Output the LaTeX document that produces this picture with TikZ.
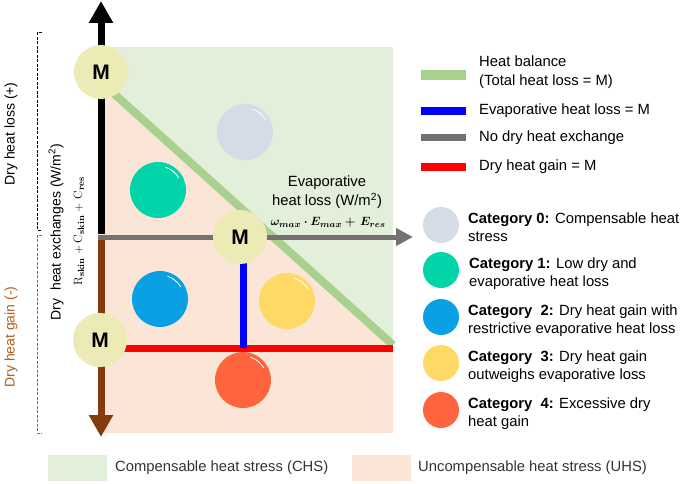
\documentclass[tikz,border=0pt]{standalone}
\usepackage[no-math]{fontspec}
\setmainfont{Liberation Sans}
\usepackage{bm}
\usetikzlibrary{arrows.meta}

\definecolor{mfill}{HTML}{EDEBB5}
\definecolor{chsfill}{HTML}{E2EFDA}
\definecolor{uhsfill}{HTML}{FBE5D6}
\definecolor{balance}{HTML}{A9D18E}
\definecolor{noexch}{HTML}{767171}
\definecolor{gainaxis}{HTML}{843C0C}
\definecolor{gaintext}{HTML}{B35E1E}
\definecolor{cat0}{HTML}{D6DCE5}
\definecolor{cat1}{HTML}{00D4A8}
\definecolor{cat2}{HTML}{0AA0E4}
\definecolor{cat3}{HTML}{FFD966}
\definecolor{cat4}{HTML}{FF643E}

\tikzset{
    mnode/.style={circle, fill=mfill, minimum size=54pt, inner sep=0pt, font=\fontsize{21}{21}\selectfont\bfseries},
    catdot/.style={circle, minimum size=56pt, inner sep=0pt},
    legdot/.style={circle, minimum size=36pt, inner sep=0pt},
    gloss/.style={white, line width=0.8pt},
    legtext/.style={anchor=west, align=left, inner sep=0pt, font=\fontsize{14.8}{18}\selectfont},
    sidetext/.style={rotate=90, font=\fontsize{14}{17}\selectfont},
    axistip/.style={-{Triangle[width=23pt,length=22pt]}, line width=7pt},
}

\begin{document}
\begin{tikzpicture}[x=1pt, y=-1pt]

    \useasboundingbox (0,0) rectangle (685,484);

    % zones
    \fill[chsfill] (101,47) rectangle (393,345);
    \fill[uhsfill] (101,82) -- (393,345) -- (393,433) -- (101,433) -- cycle;

    % axes
    \coordinate (origin) at (101,237);
    \coordinate (ytop) at (101,1);
    \coordinate (ybot) at (101,437);
    \coordinate (xend) at (413,237);
    \coordinate (balstart) at (101,82);
    \coordinate (balend) at (393,345);
    \coordinate (gainstart) at (101,348);
    \coordinate (gainend) at (393,348);
    \coordinate (evaptop) at (243,237);
    \coordinate (evapfoot) at (243,348);

    \draw[balance, line width=8pt] (balstart) -- (balend);
    \draw[red, line width=7pt] (gainstart) -- (gainend);
    \draw[blue, line width=7pt] (evaptop) -- (evapfoot);

    \draw[axistip, black] ([yshift=3.5pt]origin) -- (ytop);
    \draw[axistip, gainaxis] (origin) -- (ybot);
    \draw[noexch, line width=5pt, -{Triangle[width=17pt,length=17pt]}] ([xshift=-3.5pt]origin) -- (xend);

    % metabolic heat
    \node[mnode] (mtop) at (101,72) {M};
    \node[mnode] (mmid) at (240,237) {M};
    \node[mnode] (mbot) at (100,340) {M};

    % categories
    \node[catdot, fill=cat0] (c0) at (245,132) {};
    \node[catdot, fill=cat1] (c1) at (158,190) {};
    \node[catdot, fill=cat2] (c2) at (160,299) {};
    \node[catdot, fill=cat3] (c3) at (287,301) {};
    \node[catdot, fill=cat4] (c4) at (243,380) {};
    \foreach \c in {c0,c1,c2,c3,c4}
        \draw[gloss] (\c.center) ++(-72:24) arc[start angle=-72, end angle=-30, radius=24];

    % axis labels
    \draw[dash pattern=on 3pt off 1.5pt, line width=1pt] (42,33) -- (37,33) -- (37,230) -- (42,230);
    \draw[dash pattern=on 3pt off 1.5pt, gaintext, line width=1pt] (42,235) -- (37,235) -- (37,433) -- (42,433);

    \node[sidetext] (losslabel) at (11,134) {Dry heat loss (+)};
    \node[sidetext, gaintext] (gainlabel) at (11,337) {Dry heat gain (-)};
    \node[sidetext] (drylabel) at (56,232) {Dry\ \ heat exchanges (W/m\textsuperscript{2})};
    \node[rotate=90, font=\fontsize{13}{15}\selectfont] (dryformula) at (79,231) {$\mathrm{R}_{\mathbf{skin}} + \mathrm{C}_{\mathbf{skin}} + \,\mathrm{C}_{\mathbf{res}}$};

    \node[align=center, font=\fontsize{14.8}{19}\selectfont] (evaplabel) at (327,192) {Evaporative\\heat loss (W/m\textsuperscript{2})};
    \node[font=\fontsize{13}{15}\selectfont] (evapformula) at (328,222) {$\bm{\omega_{max}\cdot E_{max} + \,E_{res}}$};

    % line legend
    \draw[balance, line width=10pt] (421,75) -- (466,75);
    \draw[blue, line width=8pt] (421,111) -- (466,111);
    \draw[noexch, line width=7pt] (421,138) -- (466,138);
    \draw[red, line width=8pt] (421,167) -- (466,167);

    \node[legtext] (lbal) at (479,72.5) {Heat balance\\[1pt](Total heat loss = M)};
    \node[legtext] (levap) at (479,111) {Evaporative heat loss = M};
    \node[legtext] (lnone) at (479,138) {No dry heat exchange};
    \node[legtext] (lgain) at (479,167) {Dry heat gain = M};

    % category legend
    \node[legdot, fill=cat0] (d0) at (441,225) {};
    \node[legdot, fill=cat1] (d1) at (441,270) {};
    \node[legdot, fill=cat2] (d2) at (441,317) {};
    \node[legdot, fill=cat3] (d3) at (441,363) {};
    \node[legdot, fill=cat4] (d4) at (441,410) {};

    \node[legtext] (t0) at (468,227) {\textbf{Category 0:} Compensable heat\\stress};
    \node[legtext] (t1) at (469,274) {\textbf{Category 1:} Low dry and\\evaporative heat loss};
    \node[legtext] (t2) at (468,320.5) {\textbf{Category\ \ 2:} Dry heat gain with\\restrictive evaporative heat loss};
    \node[legtext] (t3) at (468,367) {\textbf{Category\ \ 3:} Dry heat gain\\outweighs evaporative loss};
    \node[legtext] (t4) at (468,414) {\textbf{Category\ \ 4:} Excessive dry\\heat gain};

    % zone legend
    \fill[chsfill] (48,455) rectangle (107,481);
    \fill[uhsfill] (352,455) rectangle (411,481);
    \node[legtext, text=black!80] (lchs) at (115,468) {Compensable heat stress (CHS)};
    \node[legtext, text=black!80] (luhs) at (418,468) {Uncompensable heat stress (UHS)};

\end{tikzpicture}
\end{document}
